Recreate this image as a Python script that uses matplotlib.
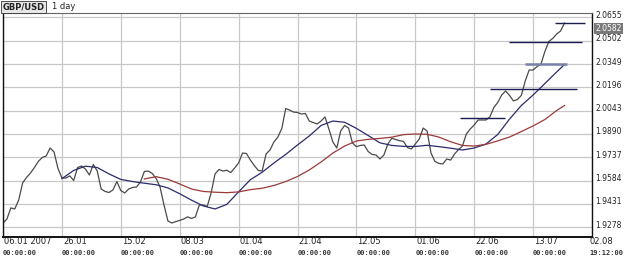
import matplotlib
matplotlib.use("Agg")
import matplotlib.pyplot as plt
import matplotlib.transforms as mtransforms

# GBP/USD daily close, one value per bar (bar 0 = 06.01 2007)
close = [
    1.9306, 1.9332, 1.9405, 1.9398, 1.9457, 1.9569, 1.9605, 1.9634, 1.9670, 1.9710,
    1.9736, 1.9746, 1.9798, 1.9772, 1.9664, 1.9601, 1.9601, 1.9615, 1.9585, 1.9670,
    1.9680, 1.9660, 1.9621, 1.9690, 1.9647, 1.9529, 1.9513, 1.9506, 1.9523, 1.9578,
    1.9519, 1.9503, 1.9529, 1.9539, 1.9542, 1.9575, 1.9644, 1.9647, 1.9631, 1.9598,
    1.9542, 1.9424, 1.9319, 1.9306, 1.9315, 1.9323, 1.9332, 1.9346, 1.9336, 1.9346,
    1.9424, 1.9424, 1.9414, 1.9503, 1.9628, 1.9657, 1.9647, 1.9652, 1.9637, 1.9667,
    1.9700, 1.9765, 1.9762, 1.9719, 1.9683, 1.9651, 1.9647, 1.9759, 1.9785, 1.9838,
    1.9870, 1.9926, 2.0057, 2.0047, 2.0034, 2.0031, 2.0021, 2.0025, 1.9975, 1.9965,
    1.9956, 1.9975, 2.0002, 1.9923, 1.9838, 1.9798, 1.9910, 1.9946, 1.9929, 1.9831,
    1.9807, 1.9815, 1.9818, 1.9775, 1.9756, 1.9752, 1.9726, 1.9752, 1.9824, 1.9862,
    1.9854, 1.9846, 1.9841, 1.9801, 1.9792, 1.9824, 1.9857, 1.9929, 1.9910, 1.9765,
    1.9710, 1.9697, 1.9693, 1.9726, 1.9719, 1.9759, 1.9788, 1.9811, 1.9890, 1.9923,
    1.9949, 1.9982, 1.9982, 1.9982, 2.0002, 2.0064, 2.0097, 2.0146, 2.0172, 2.0143,
    2.0107, 2.0116, 2.0143, 2.0238, 2.0310, 2.0310, 2.0332, 2.0349, 2.0431, 2.0497,
    2.0517, 2.0546, 2.0566, 2.0618,
]

# moving averages, read every 3rd bar
ma_fast_bars = [15, 18, 21, 24, 27, 30, 33, 36, 39, 42, 45, 48, 51, 54, 57, 60, 63, 66,
                69, 72, 75, 78, 81, 84, 87, 90, 93, 96, 99, 102, 105, 108, 111, 114,
                117, 120, 123, 126, 129, 132, 135, 138, 141, 143]
ma_fast = [1.9597, 1.9651, 1.9679, 1.9670, 1.9628, 1.9592, 1.9578, 1.9567, 1.9557,
           1.9536, 1.9498, 1.9456, 1.9418, 1.9398, 1.9428, 1.9510, 1.9590, 1.9639,
           1.9700, 1.9756, 1.9818, 1.9877, 1.9946, 1.9975, 1.9967, 1.9927, 1.9880,
           1.9832, 1.9815, 1.9809, 1.9808, 1.9816, 1.9807, 1.9797, 1.9785, 1.9798,
           1.9824, 1.9887, 1.9988, 2.0077, 2.0146, 2.0221, 2.0297, 2.0346]

ma_slow_bars = [36, 39, 42, 45, 48, 51, 54, 57, 60, 63, 66, 69, 72, 75, 78, 81, 84, 87,
                90, 93, 96, 99, 102, 105, 108, 111, 114, 117, 120, 123, 126, 129, 132,
                135, 138, 141, 143]
ma_slow = [1.9595, 1.9610, 1.9593, 1.9562, 1.9529, 1.9513, 1.9508, 1.9505, 1.9510,
           1.9525, 1.9534, 1.9552, 1.9578, 1.9611, 1.9654, 1.9706, 1.9765, 1.9811,
           1.9844, 1.9855, 1.9861, 1.9869, 1.9886, 1.9890, 1.9888, 1.9870, 1.9839,
           1.9815, 1.9811, 1.9822, 1.9845, 1.9870, 1.9906, 1.9943, 1.9985, 2.0044,
           2.0077]

# horizontal levels: price, first bar, last bar
level_price = [1.9993, 2.0183, 2.0349, 2.0496, 2.0620]
level_start = [116.3, 124.0, 132.9, 128.8, 140.6]
level_end = [127.8, 146.2, 143.6, 147.4, 148.2]

y_ticks = [1.9278, 1.9431, 1.9584, 1.9737, 1.9890, 2.0043, 2.0196, 2.0349, 2.0502, 2.0655]
x_ticks = [0, 15, 30, 45, 60, 75, 90, 105, 120, 135, 150]
x_dates = ["06.01 2007", "26.01", "15.02", "08.03", "01.04", "21.04", "12.05",
           "01.06", "22.06", "13.07", "02.08"]
x_times = ["00:00:00"] * 10 + ["19:12:00"]
last_quote = 2.0582

fig = plt.figure(figsize=(6.25, 2.59), dpi=100)
ax = fig.add_axes([0.0048, 0.0849, 0.9424, 0.8649])
ax.set_xlim(0, 150)
ax.set_ylim(1.9214, 2.0684)

ax.set_xticks(x_ticks)
ax.set_yticks(y_ticks)
ax.tick_params(length=0, labelbottom=False, labelleft=False)
ax.grid(True, color="#c8c8c8", linewidth=0.9)
ax.set_axisbelow(True)
for side in ["left", "right", "bottom"]:
    ax.spines[side].set_color("#111111")
    ax.spines[side].set_linewidth(1.0)
ax.spines["bottom"].set_linewidth(1.4)
ax.spines["top"].set_color("#666666")
ax.spines["top"].set_linewidth(0.8)

ax.plot(range(len(close)), close, color="#4a4a4a", linewidth=0.9)
ax.plot(ma_fast_bars, ma_fast, color="#2b2b6e", linewidth=0.9)
ax.plot(ma_slow_bars, ma_slow, color="#9a3a3a", linewidth=0.9)

for i, (p, s, e) in enumerate(zip(level_price, level_start, level_end)):
    if p == 2.0349:
        ax.hlines(p, s, e, color="#7880a8", linewidth=1.8)
    else:
        ax.hlines(p, s, e, color="#1c1c50", linewidth=1.0)

# right price scale
ytr = mtransforms.blended_transform_factory(ax.transAxes, ax.transData)
for v in y_ticks:
    ax.annotate(f"{v:.4f}", xy=(1, v), xycoords=ytr, xytext=(3, 2),
                textcoords="offset pixels", fontsize=5.5, va="center", ha="left",
                color="#222222", annotation_clip=False)
ax.annotate(f"{last_quote:.4f}", xy=(1, last_quote), xycoords=ytr, xytext=(3, 0),
            textcoords="offset pixels", fontsize=5.5, va="center", ha="left",
            color="white", annotation_clip=False,
            bbox=dict(boxstyle="square,pad=0.15", fc="#7a7a7a", ec="none"))

# bottom time scale
xtr = mtransforms.blended_transform_factory(ax.transData, ax.transAxes)
for i, (b, d, t) in enumerate(zip(x_ticks, x_dates, x_times)):
    dx = -3 if i == len(x_ticks) - 1 else 0
    ax.annotate(d, xy=(b, 0), xycoords=xtr, xytext=(dx + 1, -4),
                textcoords="offset pixels", fontsize=6, va="center", ha="left",
                color="#222222", annotation_clip=False)
    ax.annotate(t, xy=(b, 0), xycoords=xtr, xytext=(dx, -16),
                textcoords="offset pixels", fontsize=5, va="center", ha="left",
                family="DejaVu Sans Mono", fontweight="bold", color="#333333",
                annotation_clip=False)

fig.text(0.004, 0.973, "GBP/USD", fontsize=6, fontweight="bold", color="#222222",
         va="center", ha="left",
         bbox=dict(boxstyle="square,pad=0.15", fc="#e6e6e6", ec="#333333", lw=0.6))
fig.text(0.084, 0.973, "1 day", fontsize=6, color="#222222", va="center", ha="left")

fig.savefig("out.png", dpi=100)
